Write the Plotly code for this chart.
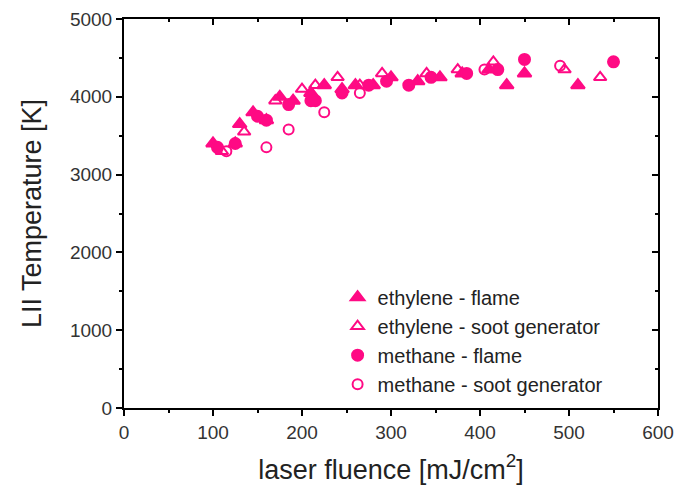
import plotly.graph_objects as go

# ethylene - flame (filled triangles)
eth_flame_x = [100, 125, 130, 145, 160, 175, 190, 210, 225, 245, 260, 280, 300, 330, 355, 380, 410, 430, 450, 510]
eth_flame_y = [3400, 3400, 3650, 3800, 3700, 4000, 3950, 4050, 4150, 4100, 4150, 4150, 4250, 4200, 4250, 4300, 4350, 4150, 4300, 4150]

# ethylene - soot generator (open triangles)
eth_soot_x = [110, 135, 170, 200, 215, 240, 265, 290, 340, 375, 415, 495, 535]
eth_soot_y = [3300, 3550, 3950, 4100, 4150, 4250, 4150, 4300, 4300, 4350, 4450, 4350, 4250]

# methane - flame (filled circles)
met_flame_x = [105, 125, 150, 160, 185, 210, 215, 245, 275, 295, 320, 345, 385, 420, 450, 550]
met_flame_y = [3350, 3400, 3750, 3700, 3900, 3950, 3950, 4050, 4150, 4200, 4150, 4250, 4300, 4350, 4480, 4450]

# methane - soot generator (open circles)
met_soot_x = [115, 160, 185, 225, 265, 405, 490]
met_soot_y = [3300, 3350, 3580, 3800, 4050, 4350, 4400]

names = ["ethylene - flame", "ethylene - soot generator", "methane - flame", "methane - soot generator"]

PINK = "#ff0a84"
FONT = "Liberation Sans, Arial, sans-serif"

fig = go.Figure()
series = [
    (eth_flame_x, eth_flame_y, "triangle-up", 12),
    (eth_soot_x, eth_soot_y, "triangle-up-open", 11),
    (met_flame_x, met_flame_y, "circle", 11),
    (met_soot_x, met_soot_y, "circle-open", 10),
]
for (xs, ys, sym, sz), nm in zip(series, names):
    fig.add_trace(go.Scatter(
        x=xs, y=ys, mode="markers", name=nm,
        marker=dict(symbol=sym, size=sz, color=PINK, line=dict(color=PINK, width=2)),
    ))

# dummy trace to activate the mirrored (top/right) axes
fig.add_trace(go.Scatter(x=[None], y=[None], xaxis="x2", yaxis="y2", showlegend=False, hoverinfo="skip"))

tickfont = dict(family=FONT, size=19, color="#333333")
titlefont = dict(family=FONT, size=27, color="#222222")

fig.update_layout(
    width=678, height=496,
    margin=dict(l=124, r=20, t=19, b=88, autoexpand=False),
    paper_bgcolor="white", plot_bgcolor="white",
    font=dict(family=FONT, color="#222222"),
    showlegend=True,
    legend=dict(x=0.40, y=0.335, xanchor="left", yanchor="top",
                font=dict(family=FONT, size=20, color="#222222"),
                bgcolor="rgba(0,0,0,0)", tracegroupgap=0, itemwidth=30),
    xaxis=dict(
        range=[0, 600], dtick=100, tick0=0, showgrid=False, zeroline=False,
        showline=True, linecolor="black", linewidth=2, automargin=False,
        ticks="outside", ticklen=6, tickwidth=2, tickcolor="black",
        minor=dict(ticks="outside", ticklen=3, dtick=50, tickwidth=2, tickcolor="black", showgrid=False),
        tickfont=tickfont,
        title=dict(text="laser fluence [mJ/cm<sup>2</sup>]", font=titlefont, standoff=18),
    ),
    yaxis=dict(
        range=[0, 5000], dtick=1000, tick0=0, showgrid=False, zeroline=False,
        showline=True, linecolor="black", linewidth=2, automargin=False,
        ticks="outside", ticklen=6, tickwidth=2, tickcolor="black",
        minor=dict(ticks="outside", ticklen=3, dtick=500, tickwidth=2, tickcolor="black", showgrid=False),
        tickfont=tickfont,
        title=dict(text="LII Temperature [K]", font=titlefont, standoff=20),
    ),
    xaxis2=dict(
        range=[0, 600], dtick=100, tick0=0, overlaying="x", side="top", anchor="y",
        showgrid=False, zeroline=False, showline=True, linecolor="black", linewidth=2,
        ticks="inside", ticklen=6, tickwidth=2, tickcolor="black", showticklabels=False,
        minor=dict(ticks="inside", ticklen=3, dtick=50, tickwidth=2, tickcolor="black", showgrid=False),
    ),
    yaxis2=dict(
        range=[0, 5000], dtick=1000, tick0=0, overlaying="y", side="right", anchor="x",
        showgrid=False, zeroline=False, showline=True, linecolor="black", linewidth=2,
        ticks="inside", ticklen=6, tickwidth=2, tickcolor="black", showticklabels=False,
        minor=dict(ticks="inside", ticklen=3, dtick=500, tickwidth=2, tickcolor="black", showgrid=False),
    ),
)

fig.write_html("out.html")
